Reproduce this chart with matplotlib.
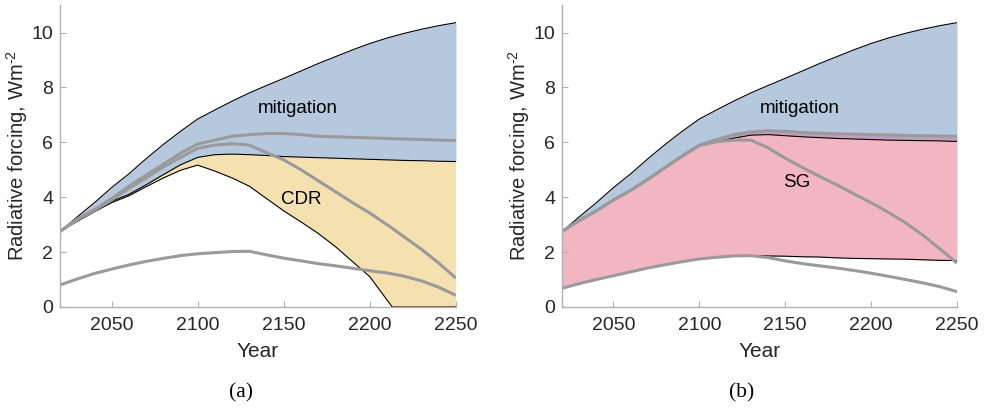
import numpy as np
import matplotlib
matplotlib.use("Agg")
import matplotlib.pyplot as plt

plt.rcParams["font.family"] = ["Liberation Sans", "DejaVu Sans"]
plt.rcParams["mathtext.default"] = "regular"

YEARS = np.arange(2020, 2251, 10)

# baseline (no-policy) forcing, shared by both panels
TOP = [2.75, 3.28, 3.80, 4.35, 4.85, 5.40, 5.92, 6.40, 6.85, 7.18, 7.50, 7.80,
       8.07, 8.33, 8.60, 8.87, 9.12, 9.37, 9.60, 9.80, 9.97, 10.12, 10.25, 10.36]

# panel (a): mitigation floor and CDR floor
MIT_A = [2.75, 3.15, 3.50, 3.85, 4.10, 4.45, 4.82, 5.18, 5.45, 5.55, 5.57, 5.55,
         5.52, 5.48, 5.46, 5.44, 5.42, 5.40, 5.38, 5.36, 5.34, 5.33, 5.31, 5.30]
CDR_YEARS = [2020, 2030, 2040, 2050, 2060, 2070, 2080, 2090, 2100, 2110, 2120, 2130,
             2140, 2150, 2160, 2170, 2180, 2190, 2200, 2210, 2213, 2220, 2230, 2240, 2250]
CDR_LOW = [2.75, 3.12, 3.47, 3.80, 4.05, 4.38, 4.70, 4.98, 5.17, 4.95, 4.70, 4.40,
           3.95, 3.50, 3.10, 2.68, 2.20, 1.65, 1.10, 0.25, 0.0, 0.0, 0.0, 0.0, 0.0]
GA1 = [2.75, 3.20, 3.55, 3.95, 4.40, 4.80, 5.20, 5.60, 5.94, 6.08, 6.22, 6.28,
       6.32, 6.32, 6.28, 6.22, 6.20, 6.18, 6.16, 6.14, 6.12, 6.10, 6.08, 6.07]
GA2 = [2.75, 3.18, 3.52, 3.90, 4.32, 4.70, 5.10, 5.45, 5.78, 5.90, 5.95, 5.90,
       5.62, 5.36, 5.00, 4.60, 4.20, 3.80, 3.42, 3.00, 2.55, 2.10, 1.60, 1.05]
GA3 = [0.80, 1.02, 1.22, 1.38, 1.53, 1.66, 1.77, 1.87, 1.94, 1.98, 2.02, 2.03,
       1.90, 1.78, 1.68, 1.58, 1.50, 1.41, 1.32, 1.24, 1.12, 0.95, 0.72, 0.42]

# panel (b): mitigation floor and SG band
MIT_B = [2.75, 3.15, 3.50, 3.90, 4.25, 4.65, 5.08, 5.50, 5.90, 6.10, 6.28, 6.38,
         6.42, 6.40, 6.36, 6.33, 6.31, 6.30, 6.28, 6.27, 6.25, 6.24, 6.23, 6.22]
SG_TOP = [2.75, 3.14, 3.49, 3.88, 4.23, 4.63, 5.06, 5.47, 5.87, 6.02, 6.15, 6.26,
          6.28, 6.24, 6.20, 6.17, 6.14, 6.12, 6.10, 6.08, 6.07, 6.06, 6.05, 6.03]
SG_LOW = [0.68, 0.85, 1.00, 1.14, 1.28, 1.42, 1.54, 1.65, 1.75, 1.81, 1.86, 1.87,
          1.86, 1.85, 1.83, 1.82, 1.79, 1.77, 1.76, 1.75, 1.74, 1.72, 1.70, 1.69]
GB2 = [2.75, 3.15, 3.50, 3.90, 4.25, 4.65, 5.08, 5.50, 5.88, 6.02, 6.08, 6.08,
       5.80, 5.42, 5.08, 4.76, 4.45, 4.12, 3.80, 3.45, 3.07, 2.62, 2.12, 1.60]
GB3 = [0.68, 0.85, 1.00, 1.14, 1.28, 1.42, 1.54, 1.65, 1.75, 1.81, 1.86, 1.87,
       1.80, 1.68, 1.58, 1.50, 1.42, 1.33, 1.23, 1.12, 1.00, 0.88, 0.74, 0.56]

BLUE = "#b5c8de"
YELLOW = "#f5e0af"
PINK = "#f2b6c3"
MAUVE = "#c59cbb"
GREY = "#9a9a9a"
AXC = "#b0b0b0"
TXT = "#262626"


def style(ax):
    ax.set_xlim(2020, 2250)
    ax.set_ylim(0, 11)
    ax.set_xticks([2050, 2100, 2150, 2200, 2250])
    ax.set_yticks([0, 2, 4, 6, 8, 10])
    for s in ("top", "right"):
        ax.spines[s].set_visible(False)
    for s in ("left", "bottom"):
        ax.spines[s].set_color(AXC)
        ax.spines[s].set_linewidth(1.0)
    ax.tick_params(direction="in", length=4, color=AXC, labelsize=14,
                   labelcolor=TXT)
    ax.tick_params(axis="x", pad=7)
    ax.tick_params(axis="y", pad=5)
    ax.set_xlabel("Year", fontsize=15, color=TXT)
    ax.set_ylabel("Radiative forcing, Wm$^{\u2010 2}$", fontsize=14.5, color=TXT)
    ax.xaxis.set_label_coords(0.5, -0.115)
    ax.yaxis.set_label_coords(-0.075, 0.5)


fig = plt.figure(figsize=(9.88, 4.13), dpi=100)
axA = fig.add_axes([0.0607, 0.2567, 0.4008, 0.731])
axB = fig.add_axes([0.5688, 0.2567, 0.3998, 0.731])

# --- (a) mitigation + CDR ---
axA.fill_between(YEARS, MIT_A, TOP, color=BLUE, lw=0)
axA.fill(np.r_[YEARS, CDR_YEARS[::-1]], np.r_[MIT_A, CDR_LOW[::-1]],
         color=YELLOW, lw=0)
axA.plot(YEARS, TOP, color="black", lw=0.8)
axA.plot(YEARS, MIT_A, color="black", lw=0.8)
axA.plot(CDR_YEARS, CDR_LOW, color="black", lw=0.8)
for g in (GA1, GA2, GA3):
    axA.plot(YEARS, g, color=GREY, lw=2.2, solid_capstyle="butt")
axA.text(2158, 7.25, "mitigation", ha="center", va="center", fontsize=13.5)
axA.text(2160, 3.93, "CDR", ha="center", va="center", fontsize=13.5)
style(axA)

# --- (b) mitigation + SG ---
axB.fill_between(YEARS, MIT_B, TOP, color=BLUE, lw=0)
axB.fill_between(YEARS, SG_TOP, MIT_B, color=MAUVE, lw=0)
axB.fill_between(YEARS, SG_LOW, SG_TOP, color=PINK, lw=0)
axB.plot(YEARS, TOP, color="black", lw=0.8)
axB.plot(YEARS, SG_TOP, color="black", lw=0.8)
axB.plot(YEARS, SG_LOW, color="black", lw=0.8)
for g in (MIT_B, GB2, GB3):
    axB.plot(YEARS, g, color=GREY, lw=2.2, solid_capstyle="butt")
axB.text(2158.5, 7.25, "mitigation", ha="center", va="center", fontsize=13.5)
axB.text(2156.5, 4.53, "SG", ha="center", va="center", fontsize=13.5)
style(axB)

# panel captions
for x, lab in ((0.244, "(a)"), (0.751, "(b)")):
    fig.text(x, 0.048, lab, ha="center", va="center", fontsize=15.5,
             family="Liberation Serif")

fig.savefig("out.png", dpi=100)
